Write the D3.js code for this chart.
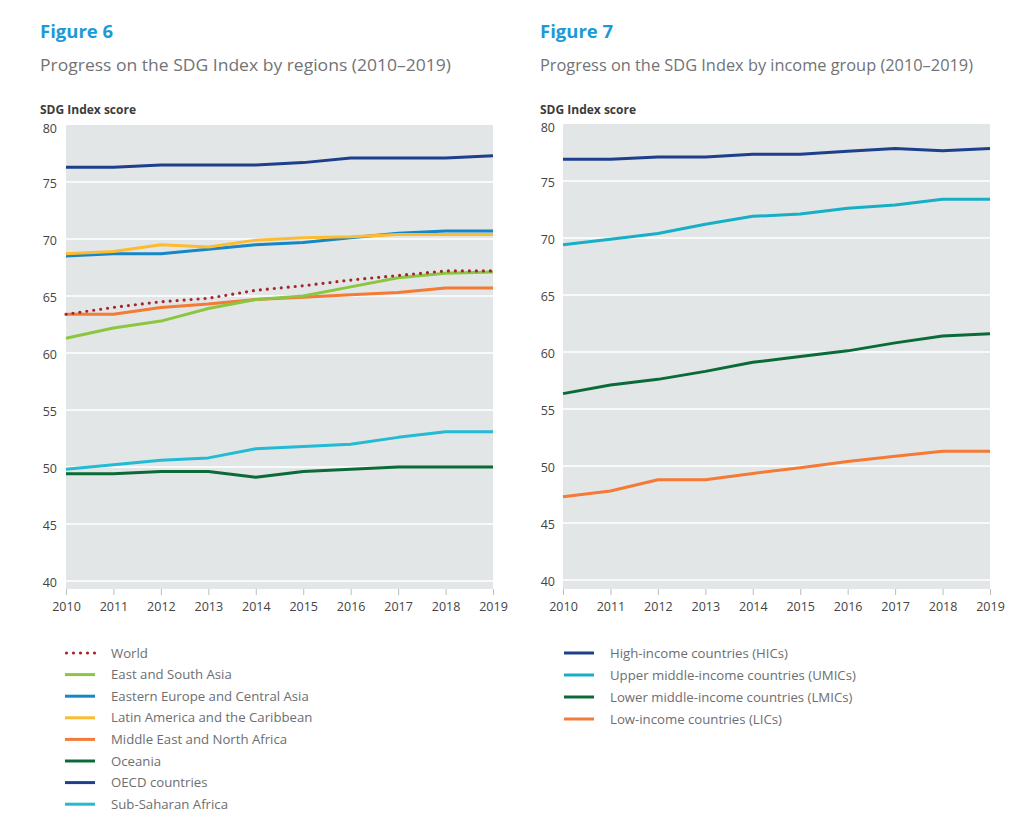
<!DOCTYPE html>
<html>
<head>
<meta charset="utf-8">
<script src="https://cdn.jsdelivr.net/npm/d3@7"></script>
<style>
  html, body { margin: 0; padding: 0; background: #ffffff; }
  svg { display: block; font-family: "Open Sans", "Noto Sans", sans-serif; }
</style>
</head>
<body>
<svg id="chart" width="1024" height="830"></svg>
<script>
// ---------- DATA ----------
const years = [2010, 2011, 2012, 2013, 2014, 2015, 2016, 2017, 2018, 2019];
const yTicks = [40, 45, 50, 55, 60, 65, 70, 75, 80];

// Figure 6 – regions
const regionNames = [
  "World",
  "East and South Asia",
  "Eastern Europe and Central Asia",
  "Latin America and the Caribbean",
  "Middle East and North Africa",
  "Oceania",
  "OECD countries",
  "Sub-Saharan Africa"
];
const world      = [63.4, 64.0, 64.5, 64.8, 65.5, 65.9, 66.4, 66.8, 67.2, 67.2];
const eastSouthAsia = [61.3, 62.2, 62.8, 63.9, 64.7, 65.0, 65.8, 66.6, 67.0, 67.1];
const easternEurope = [68.5, 68.7, 68.7, 69.1, 69.5, 69.7, 70.1, 70.5, 70.7, 70.7];
const latinAmerica  = [68.7, 68.9, 69.5, 69.3, 69.9, 70.1, 70.2, 70.4, 70.4, 70.4];
const mena          = [63.4, 63.4, 64.0, 64.3, 64.7, 64.9, 65.1, 65.3, 65.7, 65.7];
const oceania       = [49.4, 49.4, 49.6, 49.6, 49.1, 49.6, 49.8, 50.0, 50.0, 50.0];
const oecd          = [76.3, 76.3, 76.5, 76.5, 76.5, 76.7, 77.1, 77.1, 77.1, 77.3];
const subSaharan    = [49.8, 50.2, 50.6, 50.8, 51.6, 51.8, 52.0, 52.6, 53.1, 53.1];

// Figure 7 – income groups
const incomeNames = [
  "High-income countries (HICs)",
  "Upper middle-income countries (UMICs)",
  "Lower middle-income countries (LMICs)",
  "Low-income countries (LICs)"
];
const hic  = [76.9, 76.9, 77.1, 77.1, 77.35, 77.35, 77.6, 77.85, 77.65, 77.85];
const umic = [69.4, 69.9, 70.4, 71.2, 71.9, 72.1, 72.6, 72.9, 73.4, 73.4];
const lmic = [56.35, 57.1, 57.6, 58.3, 59.1, 59.6, 60.1, 60.8, 61.4, 61.6];
const lic  = [47.3, 47.8, 48.8, 48.8, 49.35, 49.85, 50.4, 50.85, 51.3, 51.3];

// ---------- STYLES ----------
const C = {
  world: "#a3262b",
  esa: "#8cc63f",
  eeca: "#1586c6",
  lac: "#fdbb30",
  mena: "#f47a36",
  oceania: "#0a6b38",
  oecd: "#1d3f8c",
  ssa: "#23bad3",
  umic: "#16afc6"
};

const svg = d3.select("#chart");

function drawPanel(cfg) {
  const g = svg.append("g");
  const x = d3.scaleLinear().domain([2010, 2019]).range([cfg.x0, cfg.x1]);
  const y = d3.scaleLinear().domain([40, 80]).range([cfg.y40, cfg.y80]);

  // titles
  g.append("text").attr("x", cfg.tx).attr("y", 38)
    .attr("font-size", 18.5).attr("font-weight", 700).attr("fill", "#1d9ad6")
    .text(cfg.fig);
  g.append("text").attr("x", cfg.tx).attr("y", 71)
    .attr("font-size", 17).attr("fill", "#727376")
    .attr("textLength", cfg.subW).attr("lengthAdjust", "spacingAndGlyphs")
    .text(cfg.subtitle);
  g.append("text").attr("x", cfg.tx).attr("y", 114)
    .attr("font-size", 12).attr("font-weight", 700).attr("fill", "#3b3b3b")
    .text("SDG Index score");

  // background
  g.append("rect")
    .attr("x", cfg.x0).attr("y", y(80))
    .attr("width", cfg.x1 - cfg.x0).attr("height", cfg.bottom - y(80))
    .attr("fill", "#e3e6e7");

  // grid
  g.selectAll(".grid").data(yTicks.filter(d => d < 80)).enter().append("line")
    .attr("x1", cfg.x0).attr("x2", cfg.x1)
    .attr("y1", d => y(d)).attr("y2", d => y(d))
    .attr("stroke", "#ffffff").attr("stroke-width", 1.4);

  // y axis labels
  const yAxis = d3.axisLeft(y).tickValues(yTicks).tickSize(0).tickPadding(0);
  const ya = g.append("g").attr("transform", `translate(${cfg.ylab},0)`).call(yAxis);
  ya.select(".domain").remove();
  ya.selectAll("text").attr("font-size", 12.5).attr("fill", "#444")
    .attr("font-family", "'Open Sans', sans-serif")
    .attr("dy", d => d === 80 ? "0.62em" : "0.42em");

  // x axis
  const xAxis = d3.axisBottom(x).tickValues(years).tickFormat(d3.format("d"))
    .tickSize(6).tickPadding(7);
  const xa = g.append("g").attr("transform", `translate(0,${cfg.bottom})`).call(xAxis);
  xa.select(".domain").remove();
  xa.selectAll("line").attr("stroke", "#b9bcbe").attr("stroke-width", 1);
  xa.selectAll("text").attr("font-size", 12.5).attr("fill", "#444")
    .attr("font-family", "'Open Sans', sans-serif");

  const line = d3.line().x((d, i) => x(years[i])).y(d => y(d));

  cfg.series.forEach(s => {
    const p = g.append("path").datum(s.values)
      .attr("d", line).attr("fill", "none")
      .attr("stroke", s.color).attr("stroke-width", 3)
      .attr("stroke-linejoin", "round");
    if (s.dotted) {
      p.attr("stroke-dasharray", "0,7").attr("stroke-linecap", "round").attr("stroke-width", 3.2);
    }
  });

  // legend
  const lg = g.append("g");
  cfg.legend.forEach((s, i) => {
    const yy = cfg.legY + i * cfg.legStep;
    const l = lg.append("line")
      .attr("x1", cfg.legX).attr("x2", cfg.legX + 30)
      .attr("y1", yy).attr("y2", yy)
      .attr("stroke", s.color).attr("stroke-width", 3);
    if (s.dotted) {
      l.attr("x1", cfg.legX + 1.5).attr("stroke-dasharray", "0,7").attr("stroke-linecap", "round").attr("stroke-width", 3.2);
    }
    lg.append("text")
      .attr("x", cfg.legX + 46).attr("y", yy)
      .attr("dy", "0.35em")
      .attr("font-size", 13.2).attr("fill", "#6d6e71")
      .text(s.name);
  });
}

const regionSeries = [
  { name: regionNames[0], values: world, color: C.world, dotted: true },
  { name: regionNames[1], values: eastSouthAsia, color: C.esa },
  { name: regionNames[2], values: easternEurope, color: C.eeca },
  { name: regionNames[3], values: latinAmerica, color: C.lac },
  { name: regionNames[4], values: mena, color: C.mena },
  { name: regionNames[5], values: oceania, color: C.oceania },
  { name: regionNames[6], values: oecd, color: C.oecd },
  { name: regionNames[7], values: subSaharan, color: C.ssa }
];

drawPanel({
  fig: "Figure 6",
  subtitle: "Progress on the SDG Index by regions (2010\u20132019)",
  subW: 411,
  tx: 40,
  x0: 66, x1: 493, y40: 581, y80: 125, bottom: 589, ylab: 57,
  series: [regionSeries[5], regionSeries[7], regionSeries[6], regionSeries[2],
           regionSeries[3], regionSeries[4], regionSeries[1], regionSeries[0]],
  legend: regionSeries,
  legX: 65, legY: 653, legStep: 21.6
});

const incomeSeries = [
  { name: incomeNames[0], values: hic, color: C.oecd },
  { name: incomeNames[1], values: umic, color: C.umic },
  { name: incomeNames[2], values: lmic, color: C.oceania },
  { name: incomeNames[3], values: lic, color: C.mena }
];

drawPanel({
  fig: "Figure 7",
  subtitle: "Progress on the SDG Index by income group (2010\u20132019)",
  subW: 433,
  tx: 540,
  x0: 563, x1: 990, y40: 580, y80: 124, bottom: 589, ylab: 555,
  series: incomeSeries,
  legend: incomeSeries,
  legX: 564, legY: 653, legStep: 22
});
</script>
</body>
</html>
